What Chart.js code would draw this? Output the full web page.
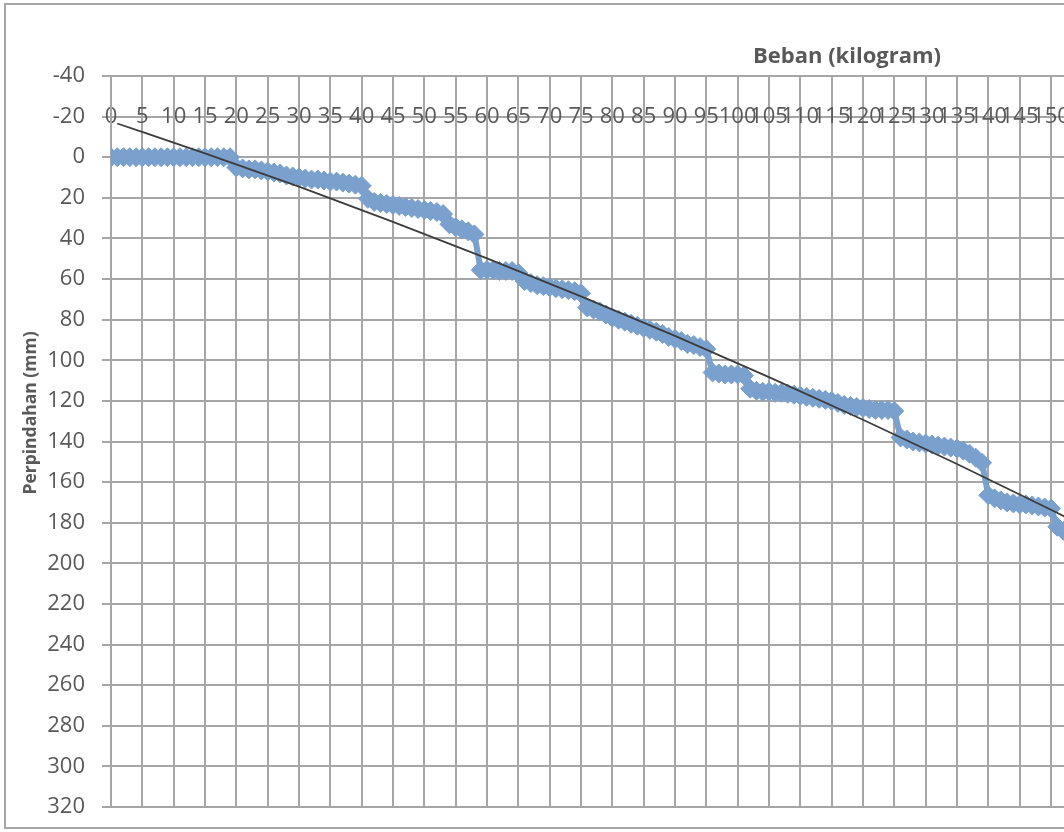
<!DOCTYPE html>
<html>
<head>
<meta charset="utf-8">
<script src="https://cdn.jsdelivr.net/npm/chart.js@4.4.1/dist/chart.umd.min.js"></script>
<style>
  html, body { margin: 0; padding: 0; overflow: hidden; background: #fff; }
  #frame { position: absolute; left: 4px; top: 3px; width: 1120px; height: 826px; border: 2px solid #a6a6a6; box-sizing: border-box; }
  #home__chart { position: absolute; left: 0; top: 0; }
</style>
</head>
<body>
<div id="frame"></div>
<canvas id="home__chart" width="1100" height="832"></canvas>
<script>
// beban (kg) for every reading
const loadKg = [
  0, 1, 2, 3, 4, 5, 6, 7, 8, 9, 10, 11, 12, 13, 14, 15, 16, 17, 18, 19,
  20, 21, 22, 23, 24, 25, 26, 27, 28, 29, 30, 31, 32, 33, 34, 35, 36, 37, 38, 39,
  40, 41, 42, 43, 44, 45, 46, 47, 48, 49, 50, 51, 52, 53, 54, 55, 56, 57, 58, 59,
  60, 61, 62, 63, 64, 65, 66, 67, 68, 69, 70, 71, 72, 73, 74, 75, 76, 77, 78, 79,
  80, 81, 82, 83, 84, 85, 86, 87, 88, 89, 90, 91, 92, 93, 94, 95, 96, 97, 98, 99,
  100, 101, 102, 103, 104, 105, 106, 107, 108, 109, 110, 111, 112, 113, 114, 115, 116, 117, 118, 119,
  120, 121, 122, 123, 124, 125, 126, 127, 128, 129, 130, 131, 132, 133, 134, 135, 136, 137, 138, 139,
  140, 141, 142, 143, 144, 145, 146, 147, 148, 149, 150, 151, 152
];

// perpindahan (mm)
const displacement = [
  0, 0, 0, 0, 0, 0, 0, 0, 0, 0, 0, 0, 0, 0, 0, 0, 0, 0, 0, 0,
  5, 5.5, 6, 6, 6.5, 7, 7.5, 8, 9, 9.5, 10, 10.5, 11, 11, 11.5, 12, 12, 12.5, 13, 13.5,
  14, 20.5, 22, 22.5, 23, 23.5, 24, 24.5, 25, 25.5, 26, 26.5, 27, 28, 33, 34.5, 35.5, 36.5, 38, 55.5,
  55.5, 55.5, 56, 56, 56, 57, 61, 62, 63, 63.5, 64, 64.5, 65, 65.5, 66, 67, 74, 75, 76, 77.5,
  79, 80, 81, 82, 83, 84, 85, 86, 87, 88.5, 89.5, 90.5, 92, 92.5, 93.5, 94.5, 106, 106.5, 107, 107,
  107, 107.5, 114, 115, 115.5, 115.5, 116, 116, 116.5, 117, 117.5, 118, 118.5, 119, 119.5, 120, 121, 122, 122.5, 123,
  123.5, 124, 124.5, 124.5, 124.5, 125, 138, 139, 140, 140.5, 141, 141.5, 142, 142.5, 143, 143.5, 144.5, 146, 148, 150.5,
  166.5, 168, 169, 170, 170.5, 171, 171, 171.5, 172, 172.5, 173, 182, 184
];

// trend line
const trendKg = [1, 15, 30, 45, 60, 75, 90, 105, 120, 135, 150, 155];
const trendMm = [-16.6, -1.9, 14.5, 31.8, 49.8, 68.5, 88.0, 108.3, 129.3, 151.1, 173.6, 181.3];

const kgAxis = [0, 155, 5];      // min, max, step
const mmAxis = [-40, 320, 20];   // min, max, step

const textGrey = '#595959';
const gridGrey = '#a6a6a6';
const seriesBlue = '#7aa0cd';

const axisTitles = {
  id: 'axisTitles',
  afterDraw(chart) {
    const c = chart.ctx;
    c.save();
    c.fillStyle = textGrey;
    c.textAlign = 'center';
    c.textBaseline = 'middle';
    c.font = 'bold 22px "Open Sans"';
    c.fillText('Beban (kilogram)', 847, 57);
    c.translate(31, 413);
    c.rotate(-Math.PI / 2);
    c.font = 'bold 17.5px "Open Sans"';
    c.fillText('Perpindahan (mm)', 0, 0);
    c.restore();
  }
};

var ctx = document.getElementById('home__chart').getContext('2d');
var myChart = new Chart(ctx, {
  type: 'line',
  data: {
    datasets: [{
      label: 'Trend',
      data: trendKg.map((k, i) => ({ x: k, y: trendMm[i] })),
      borderColor: '#3c3c3c',
      borderWidth: 1.8,
      pointRadius: 0,
      cubicInterpolationMode: 'monotone',
      order: 0
    }, {
      label: 'Perpindahan',
      data: loadKg.map((k, i) => ({ x: k, y: displacement[i] })),
      borderColor: seriesBlue,
      borderWidth: 6,
      pointStyle: 'rectRot',
      pointRadius: 9.5,
      pointBackgroundColor: seriesBlue,
      pointBorderColor: seriesBlue,
      pointBorderWidth: 1,
      order: 1
    }]
  },
  options: {
    responsive: false,
    animation: false,
    devicePixelRatio: 1,
    layout: { padding: { left: 6, top: 76, bottom: 25, right: 17.7 } },
    plugins: {
      legend: { display: false },
      tooltip: { enabled: false }
    },
    scales: {
      x: {
        type: 'linear',
        min: kgAxis[0],
        max: kgAxis[1],
        position: { y: -20 },
        grid: { color: gridGrey, lineWidth: 2, drawTicks: false },
        border: { color: gridGrey, width: 2 },
        ticks: {
          stepSize: kgAxis[2],
          autoSkip: false,
          maxRotation: 0,
          padding: -13,
          color: textGrey,
          font: { family: 'Open Sans', size: 22 }
        },
        afterFit(s) { s.height = 0; }
      },
      y: {
        type: 'linear',
        min: mmAxis[0],
        max: mmAxis[1],
        reverse: true,
        grid: { color: gridGrey, lineWidth: 2, tickLength: 9 },
        border: { color: gridGrey, width: 2 },
        ticks: {
          stepSize: mmAxis[2],
          padding: 17,
          color: textGrey,
          font: { family: 'Open Sans', size: 22 }
        },
        afterFit(s) {
          s.width = 105;
          s.paddingTop = 0;
          s.paddingBottom = 0;
        }
      }
    }
  },
  plugins: [axisTitles]
});
</script>
</body>
</html>
